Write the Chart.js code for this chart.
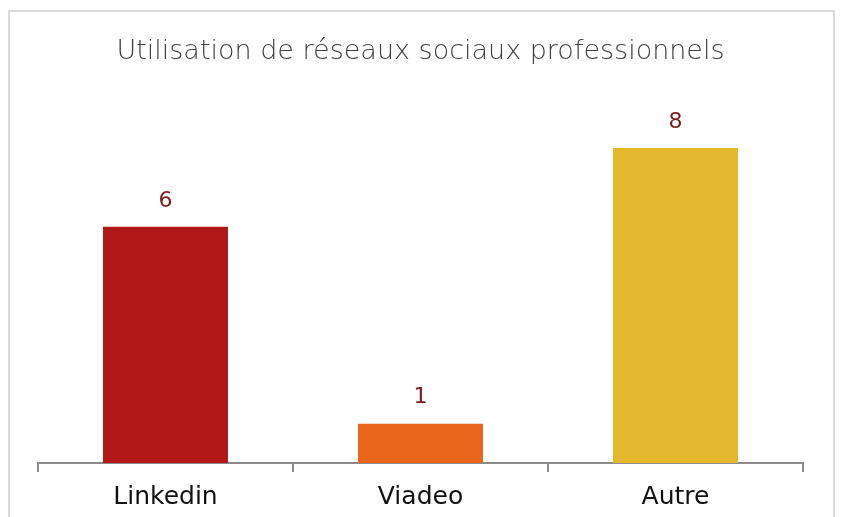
<!DOCTYPE html>
<html>
<head>
<meta charset="utf-8">
<title>Utilisation de réseaux sociaux professionnels</title>
<script src="https://cdn.jsdelivr.net/npm/chart.js@4"></script>
<style>
    html, body { margin: 0; padding: 0; background: #fff; overflow: hidden; }
    #wrap { position: relative; width: 841px; height: 540px; }
    #frame {
        position: absolute; left: 8px; top: 10px; width: 827px; height: 600px;
        border: 2px solid #d9d9d9; box-sizing: border-box; pointer-events: none;
    }
</style>
</head>
<body>
<div id="wrap">
    <canvas id="chart" width="841" height="540"></canvas>
    <div id="frame"></div>
</div>
<script>
// Données
const categories = ['Linkedin', 'Viadeo', 'Autre'];
const values = [6, 1, 8];
const barColors = ['#b01717', '#e8651a', '#e4b82c'];

const chartTitle = 'Utilisation de réseaux sociaux professionnels';
const fontFamily = '"DejaVu Sans", sans-serif';

// Étiquettes de valeur au-dessus des barres
const valueLabels = {
    id: 'valueLabels',
    afterDatasetsDraw(chart) {
        const ctx = chart.ctx;
        const meta = chart.getDatasetMeta(0);
        ctx.save();
        ctx.font = '22px ' + fontFamily;
        ctx.fillStyle = '#7a1c1c';
        ctx.textAlign = 'center';
        ctx.textBaseline = 'middle';
        meta.data.forEach((bar, i) => {
            ctx.fillText(String(values[i]), bar.x, bar.y - 26);
        });
        ctx.restore();
    }
};

new Chart(document.getElementById('chart'), {
    type: 'bar',
    data: {
        labels: categories,
        datasets: [{
            data: values,
            backgroundColor: barColors,
            borderWidth: 0,
            barPercentage: 0.49,
            categoryPercentage: 1
        }]
    },
    options: {
        responsive: false,
        animation: false,
        layout: {
            padding: { left: 38, right: 38, top: 0, bottom: 18 }
        },
        plugins: {
            legend: { display: false },
            tooltip: { enabled: false },
            title: {
                display: true,
                text: chartTitle,
                color: '#3f3f3f',
                font: { family: fontFamily, size: 27, weight: 200, lineHeight: 1.2 },
                padding: { top: 36, bottom: 1 }
            }
        },
        scales: {
            x: {
                border: { display: true, color: '#8c8c8c', width: 2 },
                grid: {
                    drawOnChartArea: false,
                    drawTicks: true,
                    tickLength: 9,
                    color: '#8c8c8c',
                    lineWidth: 2
                },
                ticks: {
                    color: '#111',
                    padding: 10,
                    font: { family: fontFamily, size: 25, lineHeight: 1.2 }
                }
            },
            y: {
                display: false,
                min: 0,
                max: 10
            }
        }
    },
    plugins: [valueLabels]
});
</script>
</body>
</html>
